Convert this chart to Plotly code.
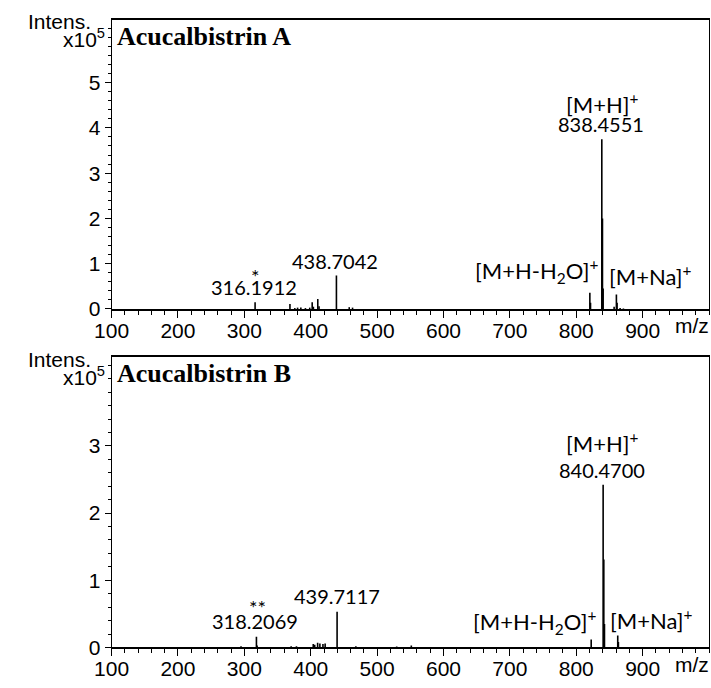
import plotly.graph_objects as go

# ---------------- data (intensity in units of 1e5) ----------------
mz_a = [316.19, 368.7, 376.0, 380.2, 385.1, 392.0, 398.5, 402.2, 404.0, 410.6, 412.5,
        438.70, 458.0, 463.0, 820.44, 821.44, 838.46, 839.46, 840.46, 857.0, 860.44,
        861.44, 866.0, 871.0]
int_a = [0.15, 0.11, 0.02, 0.03, 0.03, 0.02, 0.03, 0.15, 0.05, 0.22, 0.06,
         0.74, 0.04, 0.03, 0.36, 0.14, 3.75, 2.00, 0.45, 0.05, 0.32,
         0.14, 0.02, 0.01]

mz_b = [295.0, 318.21, 319.2, 370.5, 378.5, 403.8, 406.0, 410.4, 413.8, 418.4, 421.7,
        439.71, 468.0, 529.5, 551.5, 822.46, 840.47, 841.47, 842.47, 862.45, 863.45]
int_b = [0.02, 0.16, 0.03, 0.02, 0.02, 0.05, 0.04, 0.07, 0.06, 0.05, 0.06,
         0.53, 0.02, 0.015, 0.03, 0.12, 2.42, 1.31, 0.35, 0.18, 0.08]

titles = ["Acucalbistrin A", "Acucalbistrin B"]
x_ticks = [100, 200, 300, 400, 500, 600, 700, 800, 900]
y_ticks_a = [0, 1, 2, 3, 4, 5]
y_ticks_b = [0, 1, 2, 3]

# annotations: (text, x m/z, y intensity, xanchor, is_ion_label)
labels_a = [("*", 316.19, 0.72, "center", False),
            ("316.1912", 314.4, 0.48, "center", False),
            ("438.7042", 437.0, 1.07, "center", False),
            ("[M+H]<sup>+</sup>", 838.6, 4.54, "center", True),
            ("838.4551", 837.0, 4.09, "center", False),
            ("[M+H-H<sub>2</sub>O]<sup>+</sup>", 835.7, 0.83, "right", True),
            ("[M+Na]<sup>+</sup>", 846.0, 0.74, "left", True)]
labels_b = [("**", 319.8, 0.60, "center", False),
            ("318.2069", 315.9, 0.40, "center", False),
            ("439.7117", 439.2, 0.76, "center", False),
            ("[M+H]<sup>+</sup>", 838.6, 3.05, "center", True),
            ("840.4700", 838.6, 2.64, "center", False),
            ("[M+H-H<sub>2</sub>O]<sup>+</sup>", 833.0, 0.38, "right", True),
            ("[M+Na]<sup>+</sup>", 847.4, 0.41, "left", True)]

# ---------------- layout geometry ----------------
W, H = 711, 688
X0, X1 = 96, 709
panels = [(20, 314, 6.39), (363, 658, 4.32)]  # (top px, bottom px, y max)

def px(xp):
    return xp / W

def py(yp):
    return 1 - yp / H

AX_FONT = dict(family="Liberation Sans, Arial", size=21, color="black")
NUM_FONT = dict(family="Lato, Open Sans", size=20, color="black")
ION_FONT = dict(family="Lato, Open Sans", size=22, color="black")
TT_FONT = dict(family="Liberation Serif, Times New Roman", size=26, color="black")


def sticks(mz, inten):
    xs, ys = [], []
    for m, v in zip(mz, inten):
        xs += [m, m, None]
        ys += [0, v, None]
    return xs, ys


fig = go.Figure()
for i, (mz, inten) in enumerate([(mz_a, int_a), (mz_b, int_b)]):
    xs, ys = sticks(mz, inten)
    sfx = "" if i == 0 else "2"
    fig.add_trace(go.Scatter(x=xs, y=ys, mode="lines",
                             line=dict(color="black", width=1.6),
                             xaxis="x" + sfx, yaxis="y" + sfx,
                             showlegend=False, hoverinfo="skip"))

layout = dict(width=W, height=H, margin=dict(l=0, r=0, t=0, b=0),
              paper_bgcolor="white", plot_bgcolor="white", showlegend=False)

annotations = []
for i, (top, bot, ymax) in enumerate(panels):
    sfx = "" if i == 0 else str(i + 1)
    ytv = y_ticks_a if i == 0 else y_ticks_b
    layout["xaxis" + sfx] = dict(
        domain=[px(X0), px(X1)], range=[100, 1000], anchor="y" + sfx,
        tickmode="array", tickvals=x_ticks, ticktext=[str(v) for v in x_ticks],
        ticks="outside", ticklen=7, tickwidth=1, tickcolor="black",
        ticklabelstandoff=-5,
        minor=dict(dtick=20, tick0=100, ticks="outside", ticklen=4,
                   tickcolor="black", showgrid=False),
        showline=True, mirror=True, linecolor="black", linewidth=1.5,
        showgrid=False, zeroline=False, tickfont=AX_FONT, fixedrange=True)
    layout["yaxis" + sfx] = dict(
        domain=[py(bot), py(top)], range=[0, ymax], anchor="x" + sfx,
        tickmode="array", tickvals=ytv, ticktext=[str(v) for v in ytv],
        ticks="outside", ticklen=6, tickwidth=1, tickcolor="black",
        minor=dict(dtick=0.2, tick0=0, ticks="outside", ticklen=3,
                   tickcolor="black", showgrid=False),
        showline=True, mirror=True, linecolor="black", linewidth=1,
        showgrid=False, zeroline=False, tickfont=AX_FONT, fixedrange=True)

    # header texts
    annotations.append(dict(text="Intens.", xref="paper", yref="paper",
                            x=px(77), y=py(top + 2), xanchor="right", yanchor="middle",
                            showarrow=False, font=AX_FONT))
    annotations.append(dict(text="x10<sup>5</sup>", xref="paper", yref="paper",
                            x=px(91), y=py(top + 19), xanchor="right", yanchor="middle",
                            showarrow=False, font=AX_FONT))
    annotations.append(dict(text="<b>%s</b>" % titles[i], xref="paper", yref="paper",
                            x=px(100), y=py(top + 17), xanchor="left", yanchor="middle",
                            showarrow=False, font=TT_FONT))
    annotations.append(dict(text="m/z", xref="paper", yref="paper",
                            x=px(692), y=py(bot + 17), xanchor="center", yanchor="middle",
                            showarrow=False, font=AX_FONT))
    for (t, xm, yv, xa, ion) in (labels_a if i == 0 else labels_b):
        annotations.append(dict(text=t, xref="x" + sfx, yref="y" + sfx, x=xm, y=yv,
                                xanchor=xa, yanchor="middle", showarrow=False,
                                font=ION_FONT if ion else NUM_FONT))

layout["annotations"] = annotations
fig.update_layout(**layout)
fig.write_html("out.html", config={"displayModeBar": False},
               post_script="document.body.style.margin='0';document.body.style.overflow='hidden';")
